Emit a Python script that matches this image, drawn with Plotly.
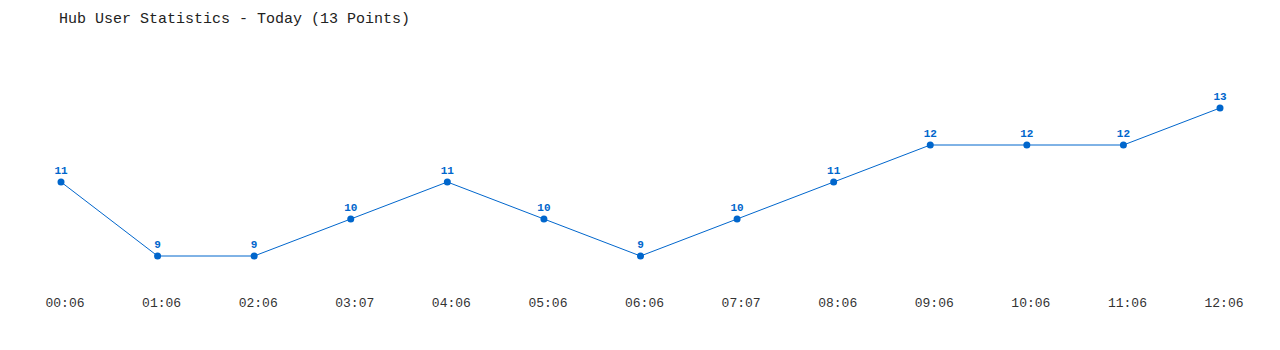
import plotly.graph_objects as go

times = ["00:06", "01:06", "02:06", "03:07", "04:06", "05:06", "06:06",
         "07:07", "08:06", "09:06", "10:06", "11:06", "12:06"]
users = [11, 9, 9, 10, 11, 10, 9, 10, 11, 12, 12, 12, 13]
title_text = "Hub User Statistics - Today (13 Points)"

blue = "#0066cc"
mono = "Liberation Mono, DejaVu Sans Mono, monospace"
idx = list(range(len(times)))

fig = go.Figure()
fig.add_trace(go.Scatter(
    x=idx, y=users, mode="lines+markers+text",
    line=dict(color=blue, width=1),
    marker=dict(color=blue, size=7),
    text=[str(v) for v in users], textposition="top center",
    textfont=dict(family=mono, size=11, color=blue, weight="bold"),
    cliponaxis=False, hoverinfo="x+y",
))

fig.update_layout(
    width=1280, height=350,
    margin=dict(l=61, r=60, t=71, b=57),
    paper_bgcolor="white", plot_bgcolor="white",
    showlegend=False,
    title=dict(text=title_text, x=59/1280, xanchor="left", y=1-18/350, yanchor="middle",
               xref="container", yref="container",
               font=dict(family=mono, size=15, color="#222222")),
    xaxis=dict(range=[0, 12], tickvals=idx, ticktext=times, showgrid=False, zeroline=False,
               showline=False, ticks="", ticklabelshift=4,
               tickfont=dict(family=mono, size=13, color="#333333")),
    yaxis=dict(range=[8, 14], showgrid=False, zeroline=False, showline=False,
               showticklabels=False, ticks=""),
)

fig.write_html("out.html")
